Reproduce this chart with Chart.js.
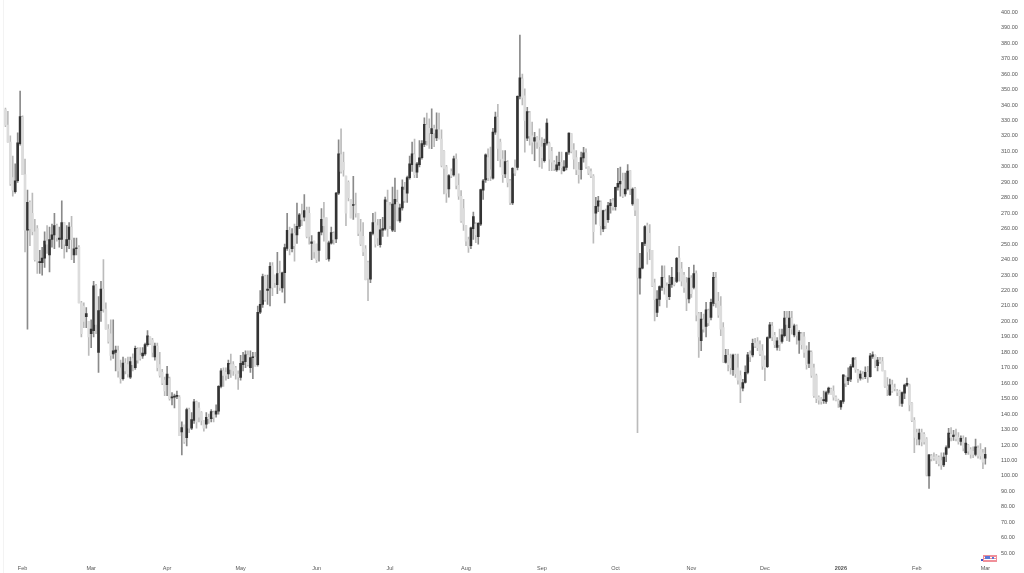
<!DOCTYPE html>
<html><head><meta charset="utf-8">
<style>html,body{margin:0;padding:0;background:#fff}canvas{display:block;filter:blur(.25px)}</style>
<script src="https://cdn.jsdelivr.net/npm/chart.js@4"></script></head>
<body><canvas id="c" width="1024" height="573"></canvas>
<script>
const firstDate = '2025-01-25';
const tickDates = ['2025-02-01','2025-03-01','2025-04-01','2025-05-01','2025-06-01','2025-07-01','2025-08-01','2025-09-01','2025-10-01','2025-11-01','2025-12-01','2026-01-01','2026-02-01','2026-03-01'];
const tickLabels = ['Feb','Mar','Apr','May','Jun','Jul','Aug','Sep','Oct','Nov','Dec','2026','Feb','Mar'];
const opens = [
337,327,316,293,284,291,315,332,295,259,
277,270,258,260,238,238,241,252,243,253,
256,262,253,253,264,249,253,261,243,247,
248,212,210,203,200,192,194,223,180,207,
221,208,195,192,179,180,181,170,163,173,
172,164,176,170,182,178,177.7,179,185,190,
188,177,184,172,167,162,159,163,150.5,151,
151.5,151,128.5,133,124.8,143,131,136,148,144,
141,136,133.5,138,137,141,140,142,158,168,
167,166,172,172,170,166,163.7,172,174,178,
170,176.5,177,172,206,211,229,220,221.6,236,
230,223.8,231,221.6,231.5,247.3,259,247,257,256,
261.4,269,267.4,272,270,250.5,252,250,246,257.7,
267,267,240.4,250.6,257,253.4,283,308,303,294,
290,279,275,275,270,258,255,247,238,227.4,
257,264,262,249.7,259,259.9,277,275,259,276,
277,265,273.5,285,283,293,301.5,308,296.6,301.5,
305.9,314.5,327,325,321.4,325,318.8,324,318,310,
300,285.8,297,294.8,305,288,281,273,262,253,
249,260,263,254.9,263,285,291.6,306,298,292.7,
322.5,332,316,305,295.4,303,291,276.6,300,299.7,
345.7,357,346,318.5,335,320,316.6,319,317,313,
304,315.3,315,310,303,298,301,303,297.6,299.7,
309.5,321.5,311,306,298,298.2,305.8,309,300,297,
294,270,274.5,277,259.8,271,265.8,274.9,278,274.3,
286.8,289,291,282.5,285.7,297.6,276,286,279,228,
234.5,250.5,262,257,246,225,205.8,214.2,222,228,
223,216,224,228,225.9,241,234,230,225,214.5,
228,222,231,205,187.5,201,196.7,207,202.6,211.6,
228,213,210,196,173.4,178,176,168.7,178,170,
165,156.8,160.5,167,179,178.4,186,187,185,181,
175,170.8,189.6,197,191,183.2,188,187,190.7,202,
196,202,191.2,197,187.9,192,190,182,172.8,180,
170,165,151,150,148.7,148.2,154,156,155,151,
149,144.7,148.2,164,161.6,162.6,170.8,175,168,163.3,
166,164.2,167,164.2,177.3,178,171.3,175,174,168,
158,152.5,159,157,155,155,147,153.6,158.8,159,
147,136,128,123.8,128,127,124,100,113,112,
113,112,110,107.1,114,118.4,127,125.5,126,125,
122.3,124,115.1,120,117,116,114,118,117,115,
111.5];
const highs = [
338,336,320,307,302,322,349,333,305,285,
278,283,266,262,246,248,258,262,261,263,
270,263,261,278,264,262,264,268,254,254,
249,213,212,209,200,201,226,224,216,226,
240,212,198,201,201,184,184,175,177,176,
177,177,179,184,183,183,183,186,194,190,
189,186,186,180,169,164,171,164,154,153,
155,152,135,133,144,144,141,149.6,148.5,147.5,
141.6,136,141,140,143,142,146,158.5,169.5,170,
170,175,178.8,174,171,168,178,180,181,181,
181,180,180,210,220,230.7,230,230,238,238,
230,244.7,239,232,250,270,261,260,263,276.5,
270,276,282,274,274,255.5,252,250,258,273,
277,267,252,261,258,283.5,317.5,324.6,309.5,294,
291,279,293.8,283,270,266,264,249,239,258,
270,270.7,266,266,267.4,280.4,285,277,287,292.7,
285,276,291.6,290,294,307,316,318,303,317,
317,331.8,334.8,331,337.6,327,335,334.8,324,310.6,
301,295,298.7,307,308.5,295.5,284.7,279,262,254.5,
261,270.7,264,264,285.6,292,308.5,311.7,312.8,325,
335.5,340.4,318,310.5,310.5,304,292,299.5,304.5,346,
385.3,360,350.5,338.6,336,329,322.4,319.6,324.6,319,
318,331,316,312.7,304,307,309.5,309.5,304,309.5,
322,321.5,315,310.5,303,309.5,312.7,311.6,300,298.7,
295,280.3,281,278,272,272.7,277,279,279.6,287,
299,299.8,296,296,301.5,297.7,286.4,286.8,279.2,244,
251.2,262,263.7,262.6,246,227.4,220,223,236,236,
225,229.6,235,228,241.5,248.6,238.2,231.7,228.5,235,
229.6,236.5,232.8,205.8,205.8,204.7,212.3,208,214.5,231.7,
231.7,218.8,216,199.3,182,182,178.8,178.8,178.8,178.8,
168,162.6,171.3,180,181,188.6,189,189.6,187.5,185,
177.8,190,199.4,199.4,192.9,189.6,195,195,206.5,206.5,
206.5,206.5,198.3,197.8,194,192.9,192.9,184.2,186.4,181,
172.4,165.9,151.8,150.8,155,155,157.5,156.8,158.3,151.8,
149.7,149,165.5,164.8,170,172,176.7,176.7,169,168,
167.6,170.6,171,179.3,180.4,178.4,176.7,176.7,176.7,168,
163.7,162.7,162,159.4,156,155.5,154.5,159.5,163.3,159.4,
147.5,137.8,130.3,130.3,130.3,128,124.9,114,114,115,
114,113,115,115,119.5,130.9,131.3,129.6,130.3,128,
126,126,124.9,120.5,118.4,118.8,123.8,119.5,121,117.3,
118.4];
const lows = [
326,316,288,281,283,290,314,295,245,195,
249,256,239,231,231,230,235,244,232,248,
247,252,248,247,241,245,247,240,238,243,
212,190,196,196,178,183,190,192,167,200,
206,195,186,175,176,168,164,160,162,166,
164,163,168,169,173,175,176,178,184,185,
177,175,168,164,159,152,152,149,146,144,
150,126,113.6,121,119.4,128,130,134,131,135,
133,129,131,134,135,135,138,140,157,158,
162,163,163.7,165,162.6,156,162,168,170,171,
167,163,171,171,205,209,213,211,210,216.6,
222,218,220,219,212,246,243,245,239,250.5,
260,262,265,254,250,240,241,238,239,256,
252,240,239,250,250,251,282,296,294,262,
278,267,266,267.4,255.5,249,242.6,226.8,213.4,225,
256,248,249,248,255,259,255,260,258,258,
265,264,272,277,277,292,297,293,293,300,
305,313,314,312,311.7,313,317,318,300,282.5,
277,280.4,293,294,285.8,279,264,258.8,249,244.7,
247,253,251,250,262,279,290,291,291,292,
321,304,300,290,293,287,275.5,275.5,294.3,298,
344,340,309.5,317,314,308.4,304,312,300,299,
303,314,297.6,297.6,297.6,297,298,295.4,297,298,
308,309,298.7,295,289.4,292,303,299,295,293,
250.7,263,271,256,258,260,264,270,272,272,
285,281,280,281,285,282,275,268.5,128,217.7,
234,249,237,240,222.5,200.4,203,210,220,217.7,
209,214,222,223,225,226,223,218.8,206.9,212,
215.5,221,200.4,176.7,181,193,190,197.2,201,210,
209,202.6,190.7,173.4,173,168,165.9,165,163.7,159.4,
147.5,155,160,166,174,177,183,181,177.8,169,
161.6,170,189,187.5,183,181.4,181,186,190,187.5,
187,191.8,190,185.3,179.3,182,176.7,169.1,170,163.7,
150.8,147.5,146.4,146.4,147,147,153,152.9,149,148.6,
144.3,143,147,157.7,159,161,170,167,160.5,162,
162.6,163,160.5,164,176,170,168,172.9,168,157.3,
151.9,152,154,155,151.9,145.4,145,150,158,142.1,
135.2,115.1,120.1,120.1,119.5,120.5,100,92,109.7,110,
108,106.5,104.3,106,109.3,118,122.7,123,122.7,120.5,
120,116.2,114,114,111.5,111.9,113,111.5,110.8,104.8,
107.6];
const closes = [
327,316,289,285,291,315.5,332.5,295,259,277,
260,258,240,239,238.5,241,252,250,253,256,
262,254,254,264,250,253,261,253,247,247.5,
212,192,200,205,190,195,223,198,207,221,
208,195,187,178,181,181.5,168,163,173,168,
166,174,172,182.6,175,176,179.5,185,190.7,186,
180,184,170,165,160,155,166,150,151,151.5,
152,126,131.3,122,143,131,136.5,148,135,138,
136,131,138,137,141.6,138,142,158,168,165,
165,172.8,169,168,166,164,172.8,174,178.4,172,
176.6,177,171,205.8,211,229,214,221,235.6,222,
225,231,222,231.5,247.7,259,247,256.6,249,261.6,
269,266,271.7,255,255,251.5,245,240,257.7,266,
262,241,250.8,257.5,253,283,308.4,297,298,270,
280,267,275.5,270,257,250,245,227,228,257.7,
264,250,254,259.2,260,278.7,260,262,276,279,
266,273.5,287,278,293,302,308.5,295,302,305.9,
315,327.5,317,322,324.7,322,324,318,301,299,
283,294.4,294,305.2,288,281,265,263,252,248,
260.5,267.8,256,263.5,285.3,291,307.8,293,294,322.5,
332.2,312,305,295,303.4,290,277,299,296,345.7,
357.6,345,330,335.8,320,316,319,316,313,306,
315.3,328.3,305,303,299,301.3,303,299.5,300,309.3,
321.8,310,305,298,295,306,309,300,296,294,
258,274.5,278,262,271.7,262,274.9,276.6,274,286.8,
289.4,290.7,281,285.7,297.2,286,285.7,272,228.5,234.5,
251,261.3,245,247,223,214,214.5,222.5,228.5,222,
214,224,228.5,224,240.8,232,226,222,215,228,
218,231,204,190,201.5,195,207.5,199,212.3,228.5,
212,204,195,174,178,172,170,178.2,166,162,
158,160.5,167,178.4,177,185.8,184,183,179,171,
170,189.6,197.8,190,185,187.5,185,191.4,202.2,198,
202.2,195,197.2,191,192.9,185,180,172,181,165,
152,150,149,148,149,154,156.8,153,151,149,
147,148.6,165.4,160,163.7,170.8,176.2,169,163,165.9,
164,167,164,177.8,178.4,175,175,174,168,158,
156,159,155,156.5,154,152,154,158.8,159.9,146,
136,125,124,127.7,122,122,100.5,113.6,111,111.5,
110,108,107,112.3,118.4,127.7,125,126.4,124,122,
124.4,118,121.2,116,114,114,118.8,113,113,109,
114];

const yTickValues = [];
for (let v = 50; v <= 400; v += 10) yTickValues.push(v);

const dates = opens.map((_, i) => {
  const d = new Date(firstDate + 'T00:00:00Z');
  d.setUTCDate(d.getUTCDate() + i);
  return d.toISOString().slice(0, 10);
});
const isUp = opens.map((o, i) => closes[i] >= o);

const decor = {
  id: 'decor',
  afterDraw(chart) {
    const g = chart.ctx;
    g.save();
    g.fillStyle = '#f3f3f3'; g.fillRect(3, 0, 1, 573);
    g.fillStyle = '#f08f99'; g.fillRect(983, 555, 14, 7);
    g.fillStyle = '#ffffff'; g.fillRect(984, 557, 12, 1); g.fillRect(984, 559, 12, 1);
    g.fillStyle = '#5a78d8'; g.fillRect(985, 556, 5, 3); g.fillRect(992, 557, 2, 2);
    g.fillStyle = '#3f51c8'; g.fillRect(981, 559, 2, 2);
    g.restore();
  }
};

new Chart(document.getElementById('c'), {
  type: 'bar',
  data: {
    labels: dates,
    datasets: [
      { label: 'wick', data: lows.map((l, i) => [l, highs[i]]), grouped: false, order: 2, barThickness: 1,
        backgroundColor: isUp.map(u => u ? '#8a8a8a' : '#bbbbbb') },
      { label: 'body', data: opens.map((o, i) => [o, closes[i]]), grouped: false, order: 1, barThickness: 2, minBarLength: 1,
        backgroundColor: isUp.map(u => u ? '#333333' : '#dcdcdc') }
    ]
  },
  plugins: [decor],
  options: {
    responsive: false, animation: false, events: [],
    layout: { padding: { left: 4.2, top: 0, right: 0, bottom: 0 } },
    plugins: { legend: { display: false }, tooltip: { enabled: false }, title: { display: false } },
    scales: {
      x: {
        type: 'category', offset: true,
        grid: { display: true, drawOnChartArea: false, drawTicks: true, tickLength: 5, color: 'rgba(0,0,0,0)' }, border: { display: false },
        afterFit(s) { s.height = 13; },
        ticks: {
          autoSkip: false, maxRotation: 0, minRotation: 0, padding: 0, color: '#555',
          font: ctx => ({ family: 'Liberation Sans', size: 5.5, weight: ctx.tick && ctx.tick.label === '2026' ? 'bold' : 'normal' }),
          callback(v) { const k = tickDates.indexOf(this.getLabelForValue(v)); return k >= 0 ? tickLabels[k] : null; }
        }
      },
      y: {
        type: 'linear', position: 'right', min: 45.63, max: 405.83,
        grid: { display: true, drawOnChartArea: false, drawTicks: true, tickLength: 14.4, color: 'rgba(0,0,0,0)' }, border: { display: false },
        afterFit(s) { s.width = 37.4; },
        afterBuildTicks(s) { s.ticks = yTickValues.map(v => ({ value: v })); },
        ticks: {
          autoSkip: false, padding: 0, color: '#555', crossAlign: 'near', align: 'center',
          font: { family: 'Liberation Sans', size: 5.5 },
          callback: v => Number(v).toFixed(2)
        }
      }
    }
  }
});
</script></body></html>
